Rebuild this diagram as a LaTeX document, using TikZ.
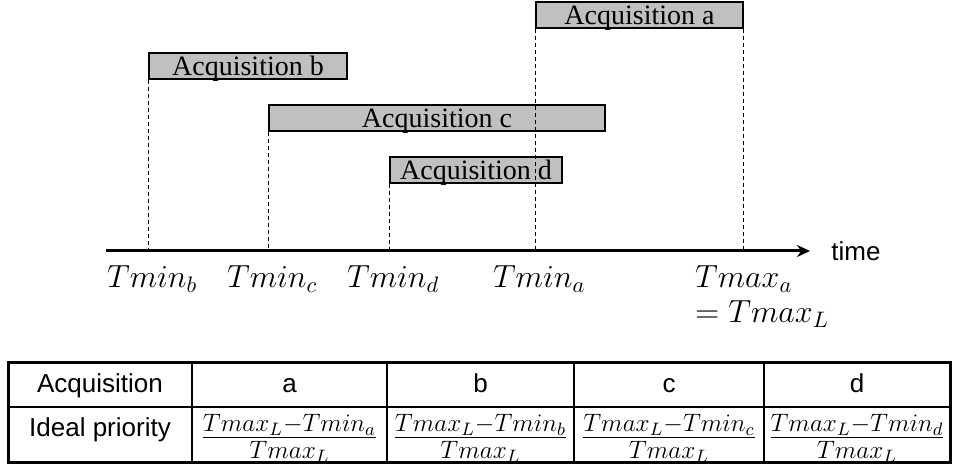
\documentclass[tikz,border=0pt]{standalone}
\usepackage{fix-cm}
\usepackage[no-math]{fontspec}
\setmainfont{Liberation Serif}
\setsansfont{Liberation Sans}
\usetikzlibrary{arrows.meta,positioning}
\definecolor{bargray}{RGB}{192,192,192}

\tikzset{
  acqbar/.style={draw=black, fill=bargray, line width=0.75pt, inner sep=0pt,
    minimum height=13pt, text height=10pt, text depth=0pt,
    font=\fontsize{14}{16}\selectfont},
  guide/.style={line width=0.55pt, dash pattern=on 2pt off 1.5pt},
  timelabel/.style={font=\fontsize{16}{19}\selectfont, inner sep=0pt},
  cell/.style={font=\sffamily\fontsize{13}{15}\selectfont, inner sep=0pt},
  prio/.style={font=\fontsize{18}{21}\selectfont, inner sep=0pt, anchor=base},
}

\begin{document}
\begin{tikzpicture}[x=0.5pt, y=-0.5pt]
  \useasboundingbox (0,0) rectangle (953,469);

  % acquisition windows
  \node[acqbar, minimum width=103.5pt] (acqa) at (639.5,15) {Acquisition a};
  \node[acqbar, minimum width=99pt] (acqb) at (248,66) {Acquisition b};
  \node[acqbar, minimum width=168pt] (acqc) at (437,118) {Acquisition c};
  \node[acqbar, minimum width=86pt] (acqd) at (476,170) {Acquisition d};

  % time axis
  \coordinate (t0) at (106,251);
  \coordinate (t1) at (810,251);

  % start times
  \foreach \n in {a,b,c,d} {
    \coordinate (t\n) at (acq\n.south west |- t0);
    \draw[guide] (acq\n.south west) -- (t\n);
    \node[timelabel, below=7pt of t\n, xshift=2pt] (tmin\n) {$Tmin_\n$};
  }

  % end time of a
  \coordinate (tmax) at (acqa.south east |- t0);
  \draw[guide] (acqa.south east) -- (tmax);
  \node[timelabel, below=7pt of tmax] (tmaxa) {$Tmax_a$};
  \node[timelabel, below=4pt of tmaxa.south west, anchor=north west] (tmaxl) {$=Tmax_L$};

  \draw[line width=1.5pt, -{Stealth[length=6.5pt, width=6pt]}] (t0) -- (t1);
  \node[cell, right=10.5pt of t1] (timelbl) {time};

  % priority table
  \draw[line width=1.5pt] (8,363) rectangle (950,463);
  \draw[line width=0.7pt] (8,407) -- (950,407);
  \foreach \x in {192,387,574,764}
    \draw[line width=0.7pt] (\x,363) -- (\x,463);

  \node[cell, anchor=base] (hacq) at (100,393) {Acquisition};
  \node[cell, anchor=base] (hprio) at (100,437) {Ideal priority};
  \foreach \n/\x in {a/289.5, b/480.5, c/669, d/857} {
    \node[cell, anchor=base] (col\n) at (\x,393) {\n};
    \node[prio] (prio\n) at (\x,446) {$\frac{Tmax_L-Tmin_\n}{Tmax_L}$};
  }
\end{tikzpicture}
\end{document}
